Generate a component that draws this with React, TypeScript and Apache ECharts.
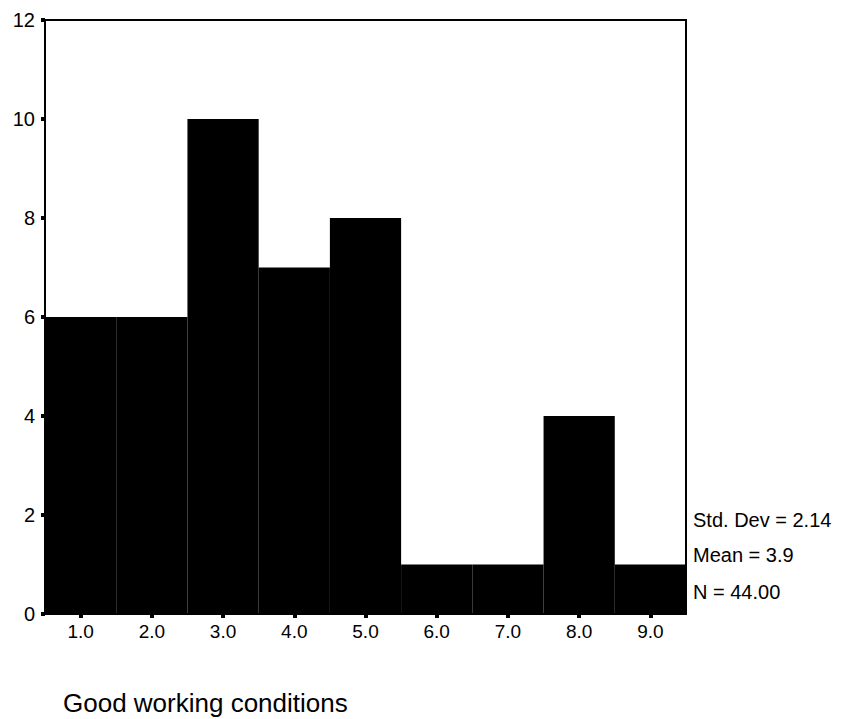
import React, { useEffect, useRef } from "react";
import * as echarts from "echarts";

const categories = ["1.0", "2.0", "3.0", "4.0", "5.0", "6.0", "7.0", "8.0", "9.0"];
const counts = [6, 6, 10, 7, 8, 1, 1, 4, 1];
const statLines = ["Std. Dev = 2.14", "Mean = 3.9", "N = 44.00"];
const axisTitle = "Good working conditions";

export default function App() {
  const ref = useRef<HTMLDivElement>(null);
  useEffect(() => {
    document.body.style.margin = "0";
    const chart = echarts.init(ref.current!, null, { renderer: "svg" });
    const font = "'Liberation Sans', Arial, sans-serif";
    const statY = [520, 555, 592];
    chart.setOption({
      animation: false,
      backgroundColor: "#fff",
      grid: {
        left: 45,
        top: 20,
        width: 641,
        height: 594,
        show: true,
        borderColor: "#000",
        borderWidth: 2,
        backgroundColor: "transparent",
      },
      xAxis: {
        type: "category",
        data: categories,
        boundaryGap: true,
        axisLine: { lineStyle: { color: "#000", width: 2 } },
        axisTick: { show: true, alignWithLabel: true, length: 4, lineStyle: { color: "#000", width: 4 } },
        axisLabel: { color: "#000", fontSize: 19, fontFamily: font, margin: 8 },
        splitLine: { show: false },
      },
      yAxis: {
        type: "value",
        min: 0,
        max: 12,
        interval: 2,
        axisLine: { show: true, lineStyle: { color: "#000", width: 2 } },
        axisTick: { show: true, length: 4, lineStyle: { color: "#000", width: 4 } },
        axisLabel: { color: "#000", fontSize: 20, fontFamily: font, margin: 10 },
        splitLine: { show: false },
      },
      series: [
        {
          type: "bar",
          data: counts,
          barCategoryGap: "0%",
          itemStyle: { color: "#000", borderColor: "#000", borderWidth: 1.5 },
        },
      ],
      graphic: [
        ...statLines.map((t, i) => ({
          type: "text",
          x: 693,
          y: statY[i],
          style: { text: t, fill: "#000", font: `20px ${font}`, verticalAlign: "middle" },
        })),
        {
          type: "text",
          x: 63,
          y: 703,
          style: { text: axisTitle, fill: "#000", font: `26px ${font}`, verticalAlign: "middle" },
        },
      ],
    });
    return () => chart.dispose();
  }, []);
  return <div ref={ref} style={{ width: 845, height: 719 }} />;
}
